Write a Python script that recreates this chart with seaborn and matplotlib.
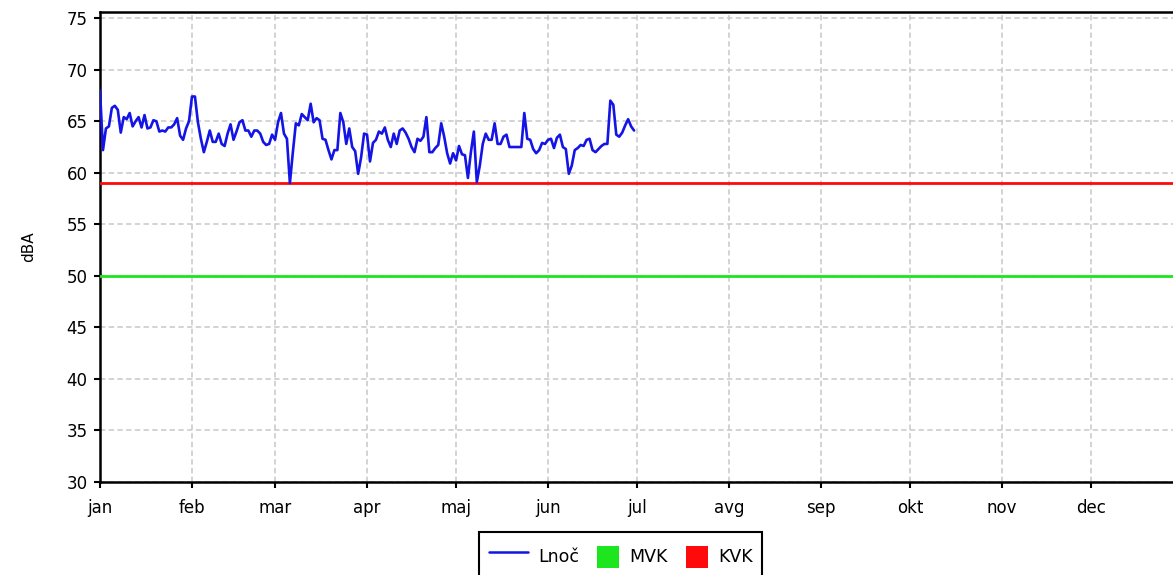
import numpy as np
import pandas as pd
import matplotlib
matplotlib.use("Agg")
import matplotlib.pyplot as plt
from matplotlib.lines import Line2D
from matplotlib.patches import Rectangle
from matplotlib.legend_handler import HandlerBase
import seaborn as sns

# Daily night-time noise level (Lnoč), 1 Jan - 30 Jun
lnoc_jan = [68.0, 62.2, 64.3, 64.5, 66.3, 66.5, 66.1, 63.9, 65.4, 65.2, 65.8,
            64.5, 65.0, 65.4, 64.4, 65.6, 64.3, 64.4, 65.1, 65.0, 64.0, 64.1,
            64.0, 64.4, 64.4, 64.7, 65.3, 63.6, 63.2, 64.3, 65.0]
lnoc_feb = [67.4, 67.4, 64.9, 63.3, 62.0, 63.0, 64.1, 63.0, 63.0, 63.8, 62.8,
            62.6, 63.8, 64.7, 63.2, 64.0, 64.9, 65.1, 64.1, 64.1, 63.5, 64.1,
            64.1, 63.8, 63.0, 62.7, 62.8, 63.7]
lnoc_mar = [63.2, 64.9, 65.8, 63.8, 63.3, 59.0, 62.0, 64.8, 64.6, 65.7, 65.4,
            65.1, 66.7, 64.9, 65.3, 65.1, 63.3, 63.2, 62.2, 61.3, 62.2, 62.2,
            65.8, 64.9, 62.8, 64.3, 62.5, 62.1, 59.9, 61.5, 63.8]
lnoc_apr = [63.7, 61.1, 62.9, 63.2, 64.0, 63.8, 64.4, 63.2, 62.5, 63.8, 62.8,
            64.1, 64.3, 63.9, 63.3, 62.5, 62.0, 63.3, 63.1, 63.5, 65.4, 62.0,
            62.0, 62.4, 62.7, 64.8, 63.5, 61.9, 60.9, 61.9]
lnoc_maj = [61.2, 62.6, 61.8, 61.7, 59.5, 62.0, 64.0, 59.1, 60.7, 62.8, 63.8,
            63.2, 63.2, 64.8, 62.8, 62.8, 63.5, 63.7, 62.5, 62.5, 62.5, 62.5,
            62.5, 65.8, 63.3, 63.2, 62.3, 61.9, 62.2, 62.9, 62.8]
lnoc_jun = [63.2, 63.3, 62.4, 63.4, 63.7, 62.5, 62.3, 59.9, 60.7, 62.2, 62.4,
            62.7, 62.6, 63.2, 63.3, 62.2, 62.0, 62.3, 62.6, 62.8, 62.8, 67.0,
            66.6, 63.7, 63.5, 63.9, 64.6, 65.2, 64.5, 64.1]

# Limit values
MVK = 50
KVK = 59

months = ["jan", "feb", "mar", "apr", "maj", "jun",
          "jul", "avg", "sep", "okt", "nov", "dec"]
year = 2023

lnoc = lnoc_jan + lnoc_feb + lnoc_mar + lnoc_apr + lnoc_maj + lnoc_jun
df = pd.DataFrame({
    "datum": pd.date_range(f"{year}-01-01", periods=len(lnoc), freq="D"),
    "Lnoč": lnoc,
})

sns.set_theme(style="ticks")
plt.rcParams["font.family"] = ["DejaVu Sans"]
plt.rcParams["text.color"] = "black"

BLUE = "#1414e6"
GREEN = "#1ee61e"
RED = "#ff0a0a"
FS = 12
LEG_FS = 12.5

fig = plt.figure(figsize=(11.73, 5.75), dpi=100)
ax = fig.add_axes([100 / 1173, 93 / 575, 1083 / 1173, 470 / 575])

ax.axhline(MVK, color=GREEN, lw=2.0, zorder=3)
ax.axhline(KVK, color=RED, lw=2.0, zorder=3)
sns.lineplot(data=df, x="datum", y="Lnoč", ax=ax, color=BLUE, lw=1.9,
             zorder=4, legend=False)

ax.set_xlim(pd.Timestamp(f"{year}-01-01"), pd.Timestamp(f"{year + 1}-01-01"))
ax.set_ylim(30, 75.6)
ax.set_yticks(np.arange(30, 76, 5))
ax.set_xticks([pd.Timestamp(year, m, 1) for m in range(1, 13)])
ax.set_xticklabels(months)

ax.grid(True, color="#c8c8c8", lw=1.1, linestyle=(0, (3.5, 2.2)))
ax.set_axisbelow(True)
for side in ["left", "bottom", "top"]:
    ax.spines[side].set_color("black")
    ax.spines[side].set_linewidth(1.8)
ax.spines["right"].set_visible(False)
ax.tick_params(axis="both", direction="out", length=4, width=1.5,
               color="black", labelsize=FS, labelcolor="black")
ax.tick_params(axis="x", pad=8)
ax.tick_params(axis="y", pad=5)
ax.set_xlabel("")
ax.set_ylabel("dBA", fontsize=11, labelpad=22, color="black")


class RightSquare(HandlerBase):
    """Square legend key placed at the right end of the handle box."""

    def create_artists(self, legend, orig_handle, xdescent, ydescent,
                       width, height, fontsize, trans):
        side = 1.27 * fontsize
        x0 = -xdescent + width - side
        y0 = -ydescent + height / 2 - side / 2
        r = Rectangle((x0, y0), side, side,
                      facecolor=orig_handle.get_facecolor(),
                      edgecolor="none", transform=trans)
        return [r]


h_line = Line2D([], [], color=BLUE, lw=1.8)
h_mvk = Rectangle((0, 0), 1, 1, facecolor=GREEN)
h_kvk = Rectangle((0, 0), 1, 1, facecolor=RED)

leg = fig.legend(
    [h_line, h_mvk, h_kvk], ["Lnoč", "MVK", "KVK"],
    loc="upper center", bbox_to_anchor=(620.5 / 1173, 52 / 575),
    ncol=3, fontsize=LEG_FS, frameon=True, fancybox=False,
    edgecolor="black", framealpha=1, borderpad=0.55,
    handlelength=2.3, handleheight=2.36, handletextpad=0.58,
    columnspacing=0.0,
    handler_map={Rectangle: RightSquare()},
)
leg.get_frame().set_linewidth(1.5)
for t in leg.get_texts():
    t.set_color("black")

fig.savefig("out.png", dpi=100)
